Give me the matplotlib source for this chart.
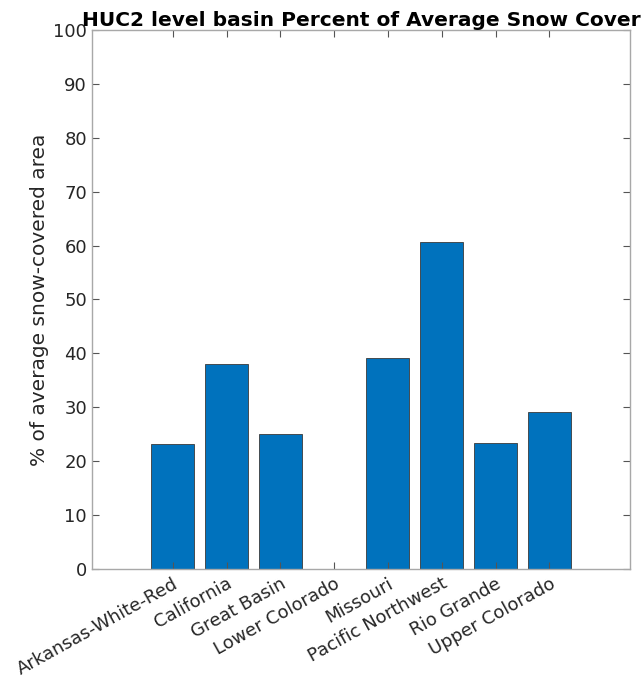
import matplotlib
matplotlib.use("Agg")
import matplotlib.pyplot as plt
import numpy as np

categories = ["Arkansas-White-Red", "California", "Great Basin", "Lower Colorado",
              "Missouri", "Pacific Northwest", "Rio Grande", "Upper Colorado"]
values = [23.2, 38.1, 25.0, 0.0, 39.1, 60.7, 23.4, 29.2]
yticks = [0, 10, 20, 30, 40, 50, 60, 70, 80, 90, 100]

plt.rcParams['font.family'] = ['DejaVu Sans']
fig = plt.figure(figsize=(6.41, 6.79), dpi=100)
ax = fig.add_axes([0.1435, 0.162, 0.8395, 0.794])

x = np.arange(len(categories))
ax.bar(x, values, width=0.8, color='#0072BD', edgecolor='#3a3a3a', linewidth=0.6)

ax.set_xlim(-1.5, len(categories) + 0.5)
ax.set_ylim(0, 100)
ax.set_yticks(yticks)
ax.set_xticks(x)
ax.set_xticklabels(categories, rotation=29, ha='right', rotation_mode='anchor')

tc = '#262626'
sc = '#a8a8a8'
for s in ax.spines.values():
    s.set_color(sc)
    s.set_linewidth(1.0)
ax.tick_params(direction='in', length=5, width=0.8, color='#555555',
               top=True, right=True, labelsize=13, labelcolor=tc)
ax.tick_params(axis='x', pad=4)
ax.set_ylabel('% of average snow-covered area', fontsize=14.5, color=tc, labelpad=3)
ax.set_title('HUC2 level basin Percent of Average Snow Cover', fontsize=14.5,
             fontweight='bold', color='black', pad=3)

fig.savefig('out.png', dpi=100)
